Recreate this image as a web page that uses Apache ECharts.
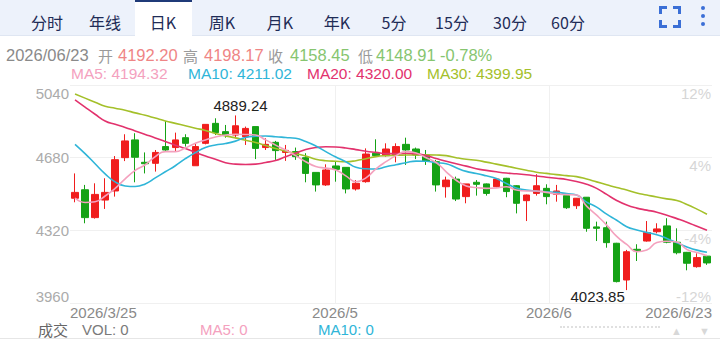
<!DOCTYPE html>
<html><head><meta charset="utf-8">
<script src="https://cdn.jsdelivr.net/npm/echarts@6/dist/echarts.min.js"></script>
<style>
html,body{margin:0;padding:0;background:#fff;}
body{width:720px;height:340px;position:relative;overflow:hidden;font-family:"Liberation Sans",Arial,"Noto Sans CJK SC",sans-serif;}
#chart{position:absolute;left:0;top:0;width:720px;height:340px;}
.abs{position:absolute;white-space:nowrap;line-height:1;}
#tabs{position:absolute;left:0;top:0;width:720px;height:36px;background:#edf2fb;border-bottom:1px solid #dfe6f2;box-sizing:border-box;}
.tab{position:absolute;top:10px;font-size:16px;color:#1f2c57;font-family:"Noto Sans CJK SC","Liberation Sans",sans-serif;transform:translateX(-50%);}
#active{position:absolute;left:135px;top:0;width:57px;height:37px;background:#fff;border-top:2px solid #1f3a78;box-sizing:border-box;}
.corner{position:absolute;width:5px;height:5px;border-color:#3b6fd6;border-style:solid;border-width:0;}
.dot{position:absolute;left:701px;width:4px;height:4px;border-radius:2px;background:#3b6fd6;}
.cjk{font-family:"Noto Sans CJK SC",sans-serif;}
</style></head>
<body>
<div id="chart"></div>
<div id="tabs">
  <div id="active"></div>
</div>
<div id="overlay"></div>
<script>
// ---------- data ----------
const tabLabels = ['分时','年线','日K','周K','月K','年K','5分','15分','30分','60分'];
const dates = [
 '2026/3/25','2026/3/26','2026/3/27','2026/3/30','2026/3/31',
 '2026/4/1','2026/4/2','2026/4/3','2026/4/7','2026/4/8','2026/4/9','2026/4/10',
 '2026/4/13','2026/4/14','2026/4/15','2026/4/16','2026/4/17',
 '2026/4/20','2026/4/21','2026/4/22','2026/4/23','2026/4/24',
 '2026/4/27','2026/4/28','2026/4/29','2026/4/30',
 '2026/5/1','2026/5/4','2026/5/5','2026/5/6','2026/5/7','2026/5/8',
 '2026/5/11','2026/5/12','2026/5/13','2026/5/14','2026/5/15',
 '2026/5/18','2026/5/19','2026/5/20','2026/5/21','2026/5/22',
 '2026/5/25','2026/5/26','2026/5/27','2026/5/28','2026/5/29',
 '2026/6/1','2026/6/2','2026/6/3','2026/6/4','2026/6/5',
 '2026/6/8','2026/6/9','2026/6/10','2026/6/11','2026/6/12',
 '2026/6/15','2026/6/16','2026/6/17','2026/6/18','2026/6/19',
 '2026/6/22','2026/6/23'
];
const opens = [4479,4521,4383,4470,4515,4680,4768,4657,4652,4735,4730,4779,4640,4751,4850,4809,
 4792,4784,4834,4730,4756,4706,4710,4680,4607,4545,4639,4632,4525,4561,4702,4690,
 4693,4746,4723,4693,4660,4536,4574,4487,4558,4550,4536,4578,4541,4467,4503,4528,
 4498,4492,4442,4484,4337,4333,4256,4074,4226,4267,4313,4342,4261,4211,4140,4192.20];
const closes = [4508,4383,4498,4508,4670,4763,4682,4650,4706,4718,4768,4751,4735,4845,4804,4792,
 4838,4825,4726,4746,4715,4716,4685,4602,4545,4619,4622,4525,4553,4698,4690,4723,
 4735,4718,4693,4664,4545,4569,4475,4550,4548,4503,4574,4512,4454,4495,4541,4487,
 4515,4432,4479,4330,4330,4259,4066,4214,4219,4309,4327,4261,4209,4157,4185,4158.45];
const lows = [4459,4355,4378,4426,4487,4663,4558,4602,4611,4710,4713,4735,4640,4746,4792,4779,
 4776,4743,4673,4718,4669,4664,4669,4558,4512,4540,4561,4503,4517,4556,4685,4685,
 4657,4644,4673,4644,4512,4482,4465,4454,4492,4492,4533,4484,4404,4366,4492,4449,
 4462,4426,4426,4313,4267,4234,4062,4023.85,4168,4264,4305,4256,4201,4122,4135,4148.91];
const highs = [4602,4545,4553,4578,4688,4796,4801,4706,4718,4862,4804,4796,4751,4845,4875,4842,
 4889.24,4834,4834,4776,4763,4743,4730,4702,4607,4647,4660,4632,4569,4726,4771,4751,
 4751,4779,4730,4718,4669,4586,4586,4550,4569,4552,4576,4580,4543,4497,4598,4548,
 4545,4495,4480,4485,4363,4363,4258,4223,4251,4366,4355,4380,4330,4213,4206,4198.17];
const ma5 = [4480,4458,4462,4490,4528,4575,4617,4645,4685,4710,4710,4728,4752,4768,4782,4792,
 4796,4795,4792,4768,4742,4718,4690,4660,4636,4628,4619,4590,4561,4580,4625,4660,
 4690,4710,4703,4680,4656,4610,4568,4540,4532,4528,4530,4536,4520,4515,4515,4508,
 4500,4497,4495,4440,4395,4346,4290,4250,4214,4222,4260,4266,4262,4225,4210,4194.32];
const ma10 = [4746,4700,4650,4600,4560,4540,4537,4550,4580,4610,4640,4675,4705,4730,4743,4750,
 4762,4780,4786,4787,4784,4780,4776,4760,4738,4710,4683,4660,4632,4625,4624,4635,
 4645,4655,4663,4662,4655,4650,4630,4612,4602,4590,4577,4552,4530,4520,4514,4511,
 4508,4502,4495,4460,4435,4400,4370,4338,4322,4310,4298,4280,4258,4238,4222,4211.02];
const ma20 = [4966,4930,4895,4862,4845,4830,4812,4795,4778,4760,4742,4725,4706,4688,4672,4655,
 4648,4646,4648,4656,4666,4685,4702,4720,4730,4734,4733,4728,4720,4712,4706,4700,
 4700,4702,4700,4690,4676,4662,4650,4638,4625,4617,4610,4604,4600,4595,4589,4583,
 4578,4572,4562,4548,4528,4498,4468,4445,4430,4420,4410,4395,4378,4360,4340,4320.00];
const ma30 = [4995,4975,4955,4935,4925,4915,4902,4890,4876,4862,4850,4838,4826,4815,4800,4788,
 4778,4766,4755,4740,4725,4712,4700,4688,4672,4665,4662,4660,4665,4675,4685,4690,
 4692,4693,4694,4694,4693,4690,4680,4672,4667,4658,4648,4638,4628,4618,4608,4602,
 4596,4591,4586,4574,4560,4546,4532,4520,4505,4495,4485,4476,4468,4448,4425,4399.95];
const priceTicks = ['3960','4320','4680','5040'];
const pctTicks = ['-12%','-4%','4%','12%'];
const xLabelIdx = [0, 26, 47, 63];
const xLabelText = ['2026/3/25','2026/5','2026/6','2026/6/23'];
const info = {date:'2026/06/23', open:'4192.20', high:'4198.17', close:'4158.45', low:'4148.91', pct:'-0.78%'};
const maLegend = [['MA5','4194.32'],['MA10','4211.02'],['MA20','4320.00'],['MA30','4399.95']];
const volLegend = [['VOL','0'],['MA5','0'],['MA10','0']];
const maxPoint = {idx:16, value:4889.24};
const minPoint = {idx:55, value:4023.85};

// ---------- colors ----------
const C = {up:'#f01d1d', down:'#15a215', ma5:'#f4a1be', ma10:'#2fb5d8', ma20:'#e2326d', ma30:'#a4c02a',
  red:'#ef8585', green:'#86c56f', gray:'#8a8a8a'};

// ---------- HTML chrome ----------
const tabX = [47,105,163,222,280,337,394,452,510,568];
const tabs = document.getElementById('tabs');
tabLabels.forEach((t,i)=>{const d=document.createElement('div');d.className='tab';d.style.left=tabX[i]+'px';d.textContent=t;tabs.appendChild(d);});
[[659,6,'3px 0 0 3px'],[673,6,'3px 3px 0 0'],[659,20,'0 0 3px 3px'],[673,20,'0 3px 3px 0']].forEach(([x,y,bw])=>{
  const d=document.createElement('div');d.className='corner';d.style.left=x+'px';d.style.top=y+'px';d.style.borderWidth=bw;tabs.appendChild(d);});
[6,14,22].forEach(y=>{const d=document.createElement('div');d.className='dot';d.style.top=y+'px';tabs.appendChild(d);});

const ov = document.getElementById('overlay');
function txt(s,x,y,color,size,cls){const d=document.createElement('div');d.className='abs'+(cls?' '+cls:'');d.textContent=s;
  d.style.left=x+'px';d.style.top=(y-size/2)+'px';d.style.color=color;d.style.fontSize=size+'px';ov.appendChild(d);return d;}
const iy=55;
txt(info.date,6,iy,'#8a8a8a',16.5);
txt('开',98,iy,'#9a9a9a',15,'cjk'); txt(info.open,118,iy,C.red,16.5);
txt('高',183,iy,'#9a9a9a',15,'cjk'); txt(info.high,204,iy,C.red,16.5);
txt('收',268,iy,'#9a9a9a',15,'cjk'); txt(info.close,290,iy,C.green,16.5);
txt('低',358,iy,'#9a9a9a',15,'cjk'); txt(info.low,376,iy,C.green,16.5);
txt(info.pct,440,iy,C.green,16.5);
const maX=[71,188,307,427], maC=[C.ma5,C.ma10,C.ma20,C.ma30];
maLegend.forEach((m,i)=>txt(m[0]+': '+m[1],maX[i],74,maC[i],15.5));
txt('成交',38,329.5,'#666',15,'cjk');
txt(volLegend[0][0]+': '+volLegend[0][1],82,329.5,'#7a7a7a',15);
txt(volLegend[1][0]+': '+volLegend[1][1],200,329.5,C.ma5,15);
txt(volLegend[2][0]+': '+volLegend[2][1],318,329.5,C.ma10,15);
txt('▲',671,331.5,'#d8d8d8',11); txt('▼',699,331.5,'#d8d8d8',11);
const dl=document.createElement('div');dl.style.cssText='position:absolute;left:560px;top:326px;width:100px;height:0;border-top:2px dotted #e0e0e0;';ov.appendChild(dl);
const sep=document.createElement('div');sep.style.cssText='position:absolute;left:0;top:338px;width:720px;height:1px;background:#e6e6e6;';ov.appendChild(sep);

// ---------- chart ----------
const chart = echarts.init(document.getElementById('chart'), null, {renderer:'svg'});
const kdata = dates.map((d,i)=>[opens[i],closes[i],lows[i],highs[i]]);
const priceLbl = v => { const k = priceTicks.indexOf(String(v)); return k===3?'{t|'+v+'}':(k===0?'{b|'+v+'}':'{m|'+v+'}'); };
const pctLbl = v => { const k = priceTicks.indexOf(String(v)); if(k<0) return ''; return k===0?'{b|'+pctTicks[k]+'}':'{t|'+pctTicks[k]+'}'; };
const fontF = '"Liberation Sans", Arial, sans-serif';
const lineSeries = (name,data,color)=>({name,type:'line',data,xAxisIndex:0,yAxisIndex:0,smooth:true,symbol:'none',
  lineStyle:{width:1.6,color},itemStyle:{color},z:3,silent:true});
chart.setOption({
  animation:false,
  grid:{left:70,right:8,top:85,bottom:37,containLabel:false},
  xAxis:[
    {type:'category',data:dates,boundaryGap:true,axisLine:{show:false},axisTick:{show:false},axisLabel:{show:false},splitLine:{show:false}},
    {type:'category',data:dates,boundaryGap:false,position:'bottom',axisLine:{show:false},axisTick:{show:false},
     axisLabel:{show:true,interval:(i)=>xLabelIdx.includes(i),formatter:(v,i)=>{const k=xLabelIdx.indexOf(i);return k<0?'':xLabelText[k];},
       color:'#8a8a8a',fontSize:15,fontFamily:fontF,margin:2,lineHeight:15,alignMinLabel:'left',alignMaxLabel:'right'},
     splitLine:{show:true,interval:(i)=>i===26||i===47,lineStyle:{color:'#f0f0f0',width:1}}}
  ],
  yAxis:[
    {type:'value',min:3960,max:5040,interval:360,position:'left',axisLine:{show:false},axisTick:{show:false},
     splitLine:{show:true,lineStyle:{color:'#f0f0f0',width:1}},
     axisLabel:{margin:1,formatter:priceLbl,color:'#ababab',fontSize:15,fontFamily:fontF,
       rich:{t:{padding:[16,0,0,0],fontSize:15,color:'#ababab',fontFamily:fontF},m:{fontSize:15,color:'#ababab',fontFamily:fontF},b:{padding:[0,0,14,0],fontSize:15,color:'#ababab',fontFamily:fontF}}}},
    {type:'value',min:3960,max:5040,interval:360,position:'right',axisLine:{show:false},axisTick:{show:false},splitLine:{show:false},
     axisLabel:{inside:true,margin:1,formatter:pctLbl,color:'#d6d6d6',fontSize:15,fontFamily:fontF,
       rich:{t:{padding:[16,0,0,0],fontSize:15,color:'#d6d6d6',fontFamily:fontF},b:{padding:[0,0,14,0],fontSize:15,color:'#d6d6d6',fontFamily:fontF}}}}
  ],
  series:[
    {name:'K',type:'candlestick',data:kdata,xAxisIndex:0,yAxisIndex:0,barWidth:7,z:2,silent:true,
     itemStyle:{color:C.up,color0:C.down,borderColor:C.up,borderColor0:C.down,borderWidth:1},
     markPoint:{symbol:'circle',symbolSize:0,silent:true,animation:false,
       data:[
        {coord:[dates[maxPoint.idx],maxPoint.value],value:maxPoint.value.toFixed(2),
         label:{show:true,position:'top',distance:2,offset:[5,0],color:'#222',fontSize:15,fontFamily:fontF,formatter:'{c}'}},
        {coord:[dates[minPoint.idx],minPoint.value],value:minPoint.value.toFixed(2),
         label:{show:true,position:'left',distance:2,offset:[0,6],color:'#222',fontSize:15,fontFamily:fontF,formatter:'{c}'}}
       ]}},
    lineSeries('MA30',ma30,C.ma30),
    lineSeries('MA20',ma20,C.ma20),
    lineSeries('MA10',ma10,C.ma10),
    lineSeries('MA5',ma5,C.ma5)
  ]
});
</script>
</body></html>
